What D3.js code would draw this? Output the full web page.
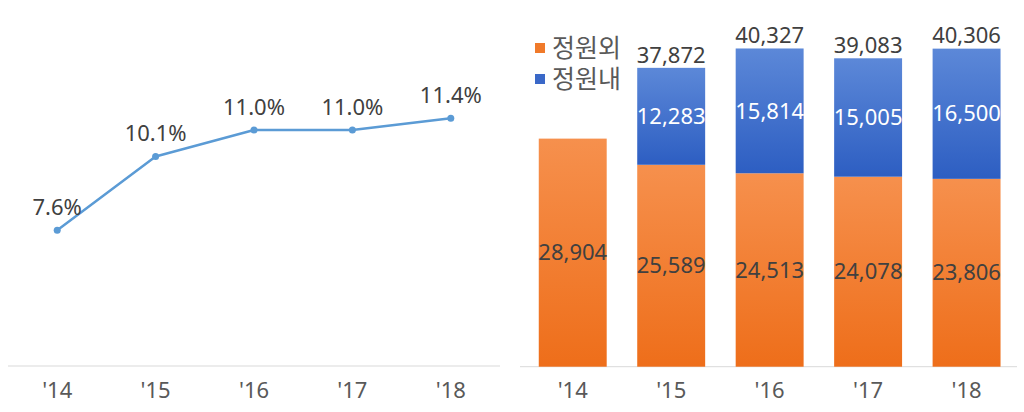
<!DOCTYPE html>
<html><head><meta charset="utf-8">
<script src="https://cdn.jsdelivr.net/npm/d3@7"></script>
<style>body{margin:0;background:#fff;}svg{display:block;font-family:"Noto Sans","Noto Sans CJK KR",sans-serif;}</style>
</head><body><svg id="c" width="1024" height="412"></svg>
<script>
const years = ["'14","'15","'16","'17","'18"];
const ratio = [7.6, 10.1, 11.0, 11.0, 11.4];
const outside = [28904, 25589, 24513, 24078, 23806]; // 정원외
const inside = [0, 12283, 15814, 15005, 16500];      // 정원내
const totals = [null, 37872, 40327, 39083, 40306];
const seriesNames = ["정원외", "정원내"];

const svg = d3.select("#c");
const defs = svg.append("defs");
function grad(id, c1, c2){
  const g = defs.append("linearGradient").attr("id", id).attr("x1",0).attr("y1",0).attr("x2",0).attr("y2",1);
  g.append("stop").attr("offset","0%").attr("stop-color",c1);
  g.append("stop").attr("offset","100%").attr("stop-color",c2);
}
grad("gO", "#f6904d", "#ee6e1a");
grad("gB", "#5c88d8", "#2d5ec2");

const textCol = "#404040", axisCol = "#595959";
const fmt = d3.format(",");

// ---- Left line chart ----
const xL = d3.scaleBand().domain(years).range([8, 500]);
const yL = d3.scaleLinear().domain([3, 12]).range([366, 100.5]);
svg.append("line").attr("x1",8).attr("x2",500).attr("y1",366).attr("y2",366).attr("stroke","#d9d9d9").attr("stroke-width",1);
const line = d3.line().x((d,i)=>xL(years[i])+xL.bandwidth()/2).y(d=>yL(d));
svg.append("path").datum(ratio).attr("d", line).attr("fill","none").attr("stroke","#5b9bd5").attr("stroke-width",2.5).attr("stroke-linejoin","round");
svg.selectAll(".pt").data(ratio).enter().append("circle")
  .attr("cx",(d,i)=>xL(years[i])+xL.bandwidth()/2).attr("cy",d=>yL(d)).attr("r",3.5).attr("fill","#5b9bd5");
svg.selectAll(".lbl").data(ratio).enter().append("text")
  .attr("x",(d,i)=>xL(years[i])+xL.bandwidth()/2).attr("y",d=>yL(d)-23).attr("dy","0.35em")
  .attr("text-anchor","middle").attr("font-size",22).attr("fill",textCol).text(d=>d.toFixed(1)+"%");
const axL = svg.append("g").attr("transform","translate(0,366)").call(d3.axisBottom(xL).tickSize(0).tickPadding(16));
axL.select(".domain").remove();
axL.selectAll("text").attr("font-size",22).attr("fill",axisCol).attr("font-family","Noto Sans");

// ---- Right stacked bar chart ----
const xR = d3.scaleBand().domain(years).range([523.5, 1015.8]).paddingInner(0.31).paddingOuter(0.155);
const yR = d3.scaleLinear().domain([0, 45000]).range([366.7, 11.6]);
svg.append("line").attr("x1",520).attr("x2",1017).attr("y1",366.7).attr("y2",366.7).attr("stroke","#d9d9d9").attr("stroke-width",1);
const bw = xR.bandwidth();
svg.selectAll(".bo").data(outside).enter().append("rect")
  .attr("x",(d,i)=>xR(years[i])).attr("width",bw)
  .attr("y",d=>yR(d)).attr("height",d=>yR(0)-yR(d)).attr("fill","url(#gO)");
svg.selectAll(".bi").data(inside).enter().append("rect")
  .attr("x",(d,i)=>xR(years[i])).attr("width",bw)
  .attr("y",(d,i)=>yR(outside[i]+d)).attr("height",(d,i)=>yR(outside[i])-yR(outside[i]+d))
  .attr("fill","url(#gB)");
svg.selectAll(".lo").data(outside).enter().append("text")
  .attr("x",(d,i)=>xR(years[i])+bw/2).attr("y",d=>(yR(d)+yR(0))/2).attr("dy","0.35em")
  .attr("text-anchor","middle").attr("font-size",22).attr("fill",textCol).text(d=>fmt(d));
svg.selectAll(".li").data(inside).enter().filter(d=>d>0).append("text")
  .attr("x",d=>xR(years[inside.indexOf(d)])+bw/2)
  .attr("y",d=>{const i=inside.indexOf(d);return (yR(outside[i])+yR(outside[i]+d))/2;}).attr("dy","0.35em")
  .attr("text-anchor","middle").attr("font-size",22).attr("fill","#ffffff").text(d=>fmt(d));
svg.selectAll(".lt").data(totals).enter().filter(d=>d!==null).append("text")
  .attr("x",d=>xR(years[totals.indexOf(d)])+bw/2).attr("y",d=>yR(d)-13).attr("dy","0.35em")
  .attr("text-anchor","middle").attr("font-size",22).attr("fill",textCol).text(d=>fmt(d));
const axR = svg.append("g").attr("transform","translate(0,366.7)").call(d3.axisBottom(xR).tickSize(0).tickPadding(16));
axR.select(".domain").remove();
axR.selectAll("text").attr("font-size",22).attr("fill",axisCol).attr("font-family","Noto Sans");

// legend
const legSolid = ["#f07a2a", "#3a68c8"];
const lg = svg.selectAll(".lg").data(seriesNames).enter().append("g")
  .attr("transform",(d,i)=>`translate(535,${48 + i*31})`);
lg.append("rect").attr("x",0).attr("y",-5).attr("width",10).attr("height",10).attr("fill",(d,i)=>legSolid[i]);
lg.append("text").attr("x",17).attr("y",0).attr("dy","0.36em").attr("font-size",25)
  .attr("font-family","Noto Sans CJK KR").attr("fill",axisCol).text(d=>d);
</script></body></html>
